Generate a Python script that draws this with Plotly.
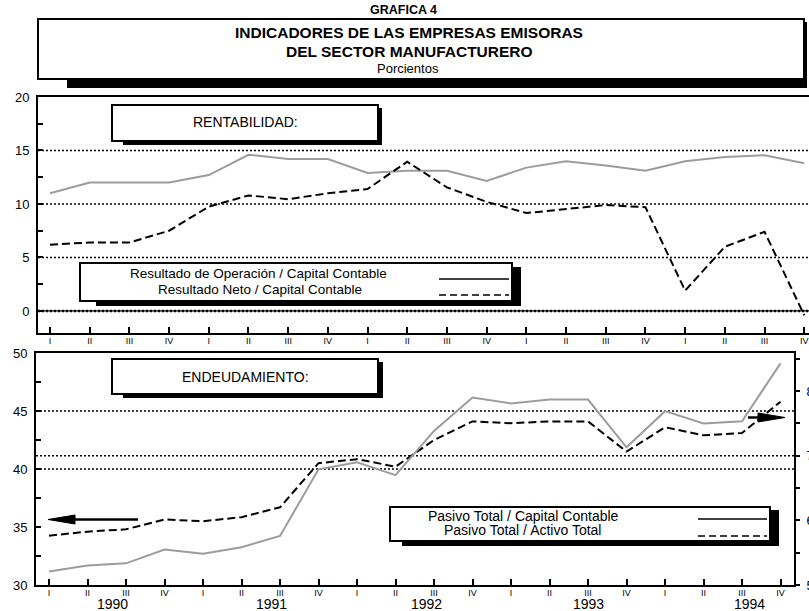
import plotly.graph_objects as go

# ---------------- data ----------------
quarters = ["I", "II", "III", "IV"] * 5
years = ["1990", "1991", "1992", "1993", "1994"]
rent_operacion = [11.0, 12.0, 12.0, 12.0, 12.7, 14.6, 14.2, 14.2, 12.9, 13.1,
                  13.1, 12.15, 13.4, 14.0, 13.6, 13.1, 14.0, 14.4, 14.55, 13.8]
rent_neto = [6.2, 6.4, 6.4, 7.5, 9.75, 10.8, 10.45, 11.0, 11.4, 13.95,
             11.55, 10.2, 9.15, 9.5, 9.9, 9.7, 1.9, 6.0, 7.4, -0.4]
pasivo_activo = [34.25, 34.6, 34.8, 35.65, 35.5, 35.85, 36.7, 40.5, 40.85, 40.2,
                 42.5, 44.1, 43.95, 44.1, 44.1, 41.5, 43.6, 42.9, 43.1, 45.8]
pasivo_capital = [52.1, 53.0, 53.35, 55.5, 54.85, 55.85, 57.6, 67.9, 69.0, 67.0,
                  73.85, 79.0, 78.1, 78.7, 78.7, 71.3, 76.9, 75.0, 75.35, 84.3]
idx = list(range(len(quarters)))

# ---------------- helpers ----------------
W, H = 809, 611
FONT = "Liberation Sans, Arial, sans-serif"
GRAY = "#9c9c9c"
DASH = "8px,4px"


def px(x):
    return x / W


def py(y):
    return 1 - y / H


fig = go.Figure()
fig.add_trace(go.Scatter(x=idx, y=rent_operacion, mode="lines", xaxis="x", yaxis="y",
                         line=dict(color=GRAY, width=2)))
fig.add_trace(go.Scatter(x=idx, y=rent_neto, mode="lines", xaxis="x", yaxis="y",
                         line=dict(color="black", width=2, dash=DASH)))
fig.add_trace(go.Scatter(x=idx, y=pasivo_activo, mode="lines", xaxis="x2", yaxis="y2",
                         line=dict(color="black", width=2, dash=DASH)))
fig.add_trace(go.Scatter(x=idx, y=pasivo_capital, mode="lines", xaxis="x2", yaxis="y3",
                         line=dict(color=GRAY, width=2)))

xcommon = dict(tickmode="array", tickvals=idx, ticktext=quarters, ticks="inside",
               ticklen=6, tickwidth=2, tickcolor="black", showline=True, linewidth=2,
               linecolor="black", showgrid=False, zeroline=False, mirror=True,
               automargin=False, ticklabelstandoff=-2,
               tickfont=dict(family=FONT, size=9, color="black"))
ycommon = dict(ticks="inside", ticklen=5, tickwidth=1.5, tickcolor="black",
               showline=True, linewidth=2, linecolor="black", showgrid=False,
               zeroline=False, automargin=False,
               tickfont=dict(family=FONT, size=13, color="black"),
               ticklabelstandoff=4)

fig.update_layout(
    template="none",
    width=W, height=H, autosize=False, margin=dict(l=0, r=0, t=0, b=0, pad=0),
    paper_bgcolor="white", plot_bgcolor="rgba(0,0,0,0)", showlegend=False,
    xaxis=dict(domain=[px(38), 1], range=[-0.302, 19.12], anchor="y", **xcommon),
    yaxis=dict(domain=[py(333), py(97)], range=[-2.06, 20], anchor="x",
               tickvals=[0, 5, 10, 15, 20],
               minor=dict(tickvals=[2.5, 7.5, 12.5, 17.5], ticks="inside", ticklen=5,
                          tickwidth=1.5, tickcolor="black"),
               **ycommon),
    xaxis2=dict(domain=[px(36), px(794)], range=[-0.338, 19.35], anchor="y2", **xcommon),
    yaxis2=dict(domain=[py(585), py(353)], range=[30, 50], anchor="x2", mirror=True,
                tickvals=[30, 35, 40, 45, 50],
                minor=dict(tickvals=[32.5, 37.5, 42.5, 47.5], ticks="inside", ticklen=5,
                           tickwidth=1.5, tickcolor="black"),
                **ycommon),
    yaxis3=dict(overlaying="y2", side="right", anchor="x2", range=[50, 85.9],
                tickvals=[50, 60, 70, 80], ticks="outside", ticklen=4, tickwidth=1.5,
                tickcolor="black", showline=True, linewidth=2, linecolor="black",
                showgrid=False, zeroline=False, automargin=False,
                minor=dict(tickvals=[55, 65, 75, 85], ticks="outside", ticklen=4,
                           tickwidth=1.5, tickcolor="black"),
                tickfont=dict(family=FONT, size=13, color="black"),
                ticklabelstandoff=4),
)

shapes = []
DOT = "2px,2px"
# dotted reference lines
for v in [5, 10, 15]:
    shapes.append(dict(type="line", xref="x domain", yref="y", x0=0, x1=1, y0=v, y1=v,
                       line=dict(color="black", width=1.5, dash=DOT), layer="below"))
shapes.append(dict(type="line", xref="x domain", yref="y", x0=0, x1=1, y0=0, y1=0,
                   line=dict(color="black", width=1.2), layer="below"))
shapes.append(dict(type="line", xref="x domain", yref="y", x0=0, x1=1, y0=0, y1=0,
                   line=dict(color="black", width=2.5, dash=DOT), layer="below"))
for v in [40, 45]:
    shapes.append(dict(type="line", xref="x2 domain", yref="y2", x0=0, x1=1, y0=v, y1=v,
                       line=dict(color="black", width=1.5, dash=DOT), layer="below"))
shapes.append(dict(type="line", xref="x2 domain", yref="y3", x0=0, x1=1, y0=70, y1=70,
                   line=dict(color="black", width=1.5, dash=DOT), layer="below"))


def box(x0, y0, x1, y1, sx0, sy0, sx1, sy1):
    shapes.append(dict(type="rect", xref="paper", yref="paper",
                       x0=px(sx0), x1=px(sx1), y0=py(sy1), y1=py(sy0),
                       fillcolor="black", line=dict(width=0)))
    shapes.append(dict(type="rect", xref="paper", yref="paper",
                       x0=px(x0), x1=px(x1), y0=py(y1), y1=py(y0),
                       fillcolor="white", line=dict(color="black", width=2)))


box(38, 19, 804, 79, 67, 22, 807, 88)          # title
box(112, 105, 378, 141, 123, 108, 382, 145)    # RENTABILIDAD
box(112, 359, 378, 394, 123, 362, 383, 398)    # ENDEUDAMIENTO
box(80, 263, 512, 301, 96, 267, 521, 306)      # legend top
box(390, 507, 770, 541, 402, 510, 779, 546)    # legend bottom


def hline(x0, x1, y, dash=None, width=1.5):
    ln = dict(color="black", width=width)
    if dash:
        ln["dash"] = dash
    shapes.append(dict(type="line", xref="paper", yref="paper",
                       x0=px(x0), x1=px(x1), y0=py(y), y1=py(y), line=ln))


hline(439, 509, 279)
hline(439, 509, 295, dash="7px,4px")
hline(698, 767, 519)
hline(698, 767, 536, dash="7px,4px")


def arrow(tail, tip, y, head_len=27, half=4.5):
    d = 1 if tip > tail else -1
    base = tip - d * head_len
    hline(tail, base, y, width=2.5)
    path = "M {},{} L {},{} L {},{} Z".format(
        px(tip), py(y), px(base), py(y - half), px(base), py(y + half))
    shapes.append(dict(type="path", xref="paper", yref="paper", path=path,
                       fillcolor="black", line=dict(color="black", width=1)))


arrow(138, 48, 519.5)
arrow(748, 785, 417.5)

ann = []


def text(x, y, s, size, bold=False):
    ann.append(dict(xref="paper", yref="paper", x=px(x), y=py(y), text=s,
                    showarrow=False, xanchor="center", yanchor="middle",
                    font=dict(family=FONT, size=size, color="black",
                              weight="bold" if bold else "normal")))


text(403, 10, "GRAFICA 4", 12.5, True)
text(409, 33, "INDICADORES DE LAS EMPRESAS EMISORAS", 15.5, True)
text(409, 51, "DEL SECTOR MANUFACTURERO", 15.5, True)
text(408, 68, "Porcientos", 13)
text(245, 122, "RENTABILIDAD:", 14)
text(245, 377, "ENDEUDAMIENTO:", 14)
text(258, 273, "Resultado de Operación / Capital Contable", 13.5)
text(260, 289, "Resultado Neto / Capital Contable", 13.5)
text(523, 516, "Pasivo Total / Capital Contable", 14)
text(522, 530, "Pasivo Total / Activo Total", 14)

year_offsets = [1.64, 1.78, 1.81, 2.01, 2.2]
for k, yr in enumerate(years):
    ann.append(dict(xref="x2", yref="paper", x=4 * k + year_offsets[k], y=py(604),
                    text=yr, showarrow=False, xanchor="center", yanchor="middle",
                    font=dict(family=FONT, size=14, color="black")))

fig.update_layout(shapes=shapes, annotations=ann)

css = ("var s=document.createElement('style');"
       "s.textContent='html,body{margin:0;padding:0;overflow:hidden;}';"
       "document.head.appendChild(s);")
fig.write_html("out.html", config={"displayModeBar": False},
               post_script=css)
